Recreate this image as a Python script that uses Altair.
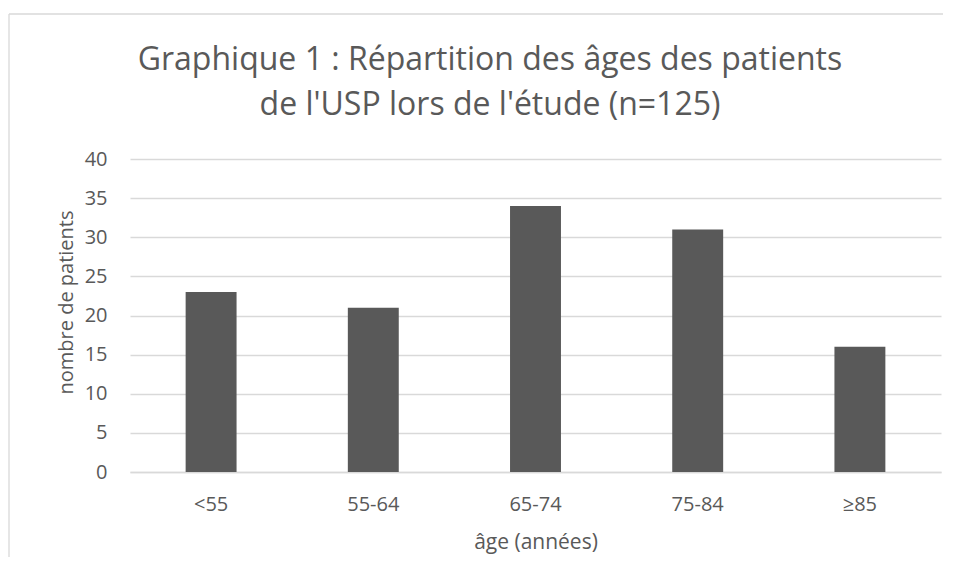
import altair as alt
import pandas as pd

# Data
CATEGORIES = ["<55", "55-64", "65-74", "75-84", "≥85"]
PATIENTS = [23, 21, 34, 31, 16]
Y_TICKS = [0, 5, 10, 15, 20, 25, 30, 35, 40]
TITLE_LINES = ["Graphique 1 : Répartition des âges des patients",
               "de l'USP lors de l'étude (n=125)"]
X_TITLE = "âge (années)"
Y_TITLE = "nombre de patients"

FONT = "Open Sans"
TXT = "#595959"
GRID = "#d9d9d9"
W, H = 811, 313
FS = 20
PAD = {"left": 122, "top": 151, "right": 2, "bottom": 85}

df = pd.DataFrame({"age": CATEGORIES, "n": PATIENTS})

bars = alt.Chart(df).mark_bar(color="#595959").encode(
    x=alt.X("age:N", sort=CATEGORIES,
            scale=alt.Scale(paddingInner=0.686, paddingOuter=0.343),
            axis=alt.Axis(title=X_TITLE, labelAngle=0, labelFontSize=FS,
                          labelColor=TXT, labelFont=FONT, labelPadding=22,
                          ticks=False, domain=True, domainColor=GRID,
                          domainWidth=1.3,
                          titleFontSize=21, titleFont=FONT, titleColor=TXT,
                          titleFontWeight="normal", titleY=76,
                          titleBaseline="alphabetic")),
    y=alt.Y("n:Q", scale=alt.Scale(domain=[0, 40], nice=False),
            axis=alt.Axis(title=Y_TITLE, values=Y_TICKS, grid=True,
                          gridColor=GRID, gridWidth=1.3, domain=False,
                          ticks=False, labelFontSize=FS, labelColor=TXT,
                          labelFont=FONT, labelPadding=23,
                          titleFontSize=FS, titleFont=FONT, titleColor=TXT,
                          titleFontWeight="normal", titleX=-58, titleY=143,
                          titleAngle=270, titleAlign="center",
                          titleBaseline="alphabetic")),
)

frame_src = pd.DataFrame({"d": [0]})
top_line = alt.Chart(frame_src).mark_rule(color=GRID, strokeWidth=1.3).encode(
    x=alt.value(-121), x2=alt.value(W + PAD["right"]), y=alt.value(-145))
left_line = alt.Chart(frame_src).mark_rule(color=GRID, strokeWidth=1.3).encode(
    x=alt.value(-121), y=alt.value(-145), y2=alt.value(H + PAD["bottom"]))

t1 = alt.Chart(pd.DataFrame({"t": [TITLE_LINES[0]]})).mark_text(
    font=FONT, fontSize=32, color=TXT, align="center", baseline="alphabetic"
).encode(text="t:N", x=alt.value(360), y=alt.value(-89))

t2 = alt.Chart(pd.DataFrame({"t": [TITLE_LINES[1]]})).mark_text(
    font=FONT, fontSize=32, color=TXT, align="center", baseline="alphabetic"
).encode(text="t:N", x=alt.value(360), y=alt.value(-44))

chart = alt.layer(top_line, left_line, bars, t1, t2).properties(
    width=W, height=H,
    padding=PAD,
    autosize=alt.AutoSizeParams(type="none"),
).configure_view(stroke=None)

chart.save("out.html", embed_options={"renderer": "svg", "actions": False})
